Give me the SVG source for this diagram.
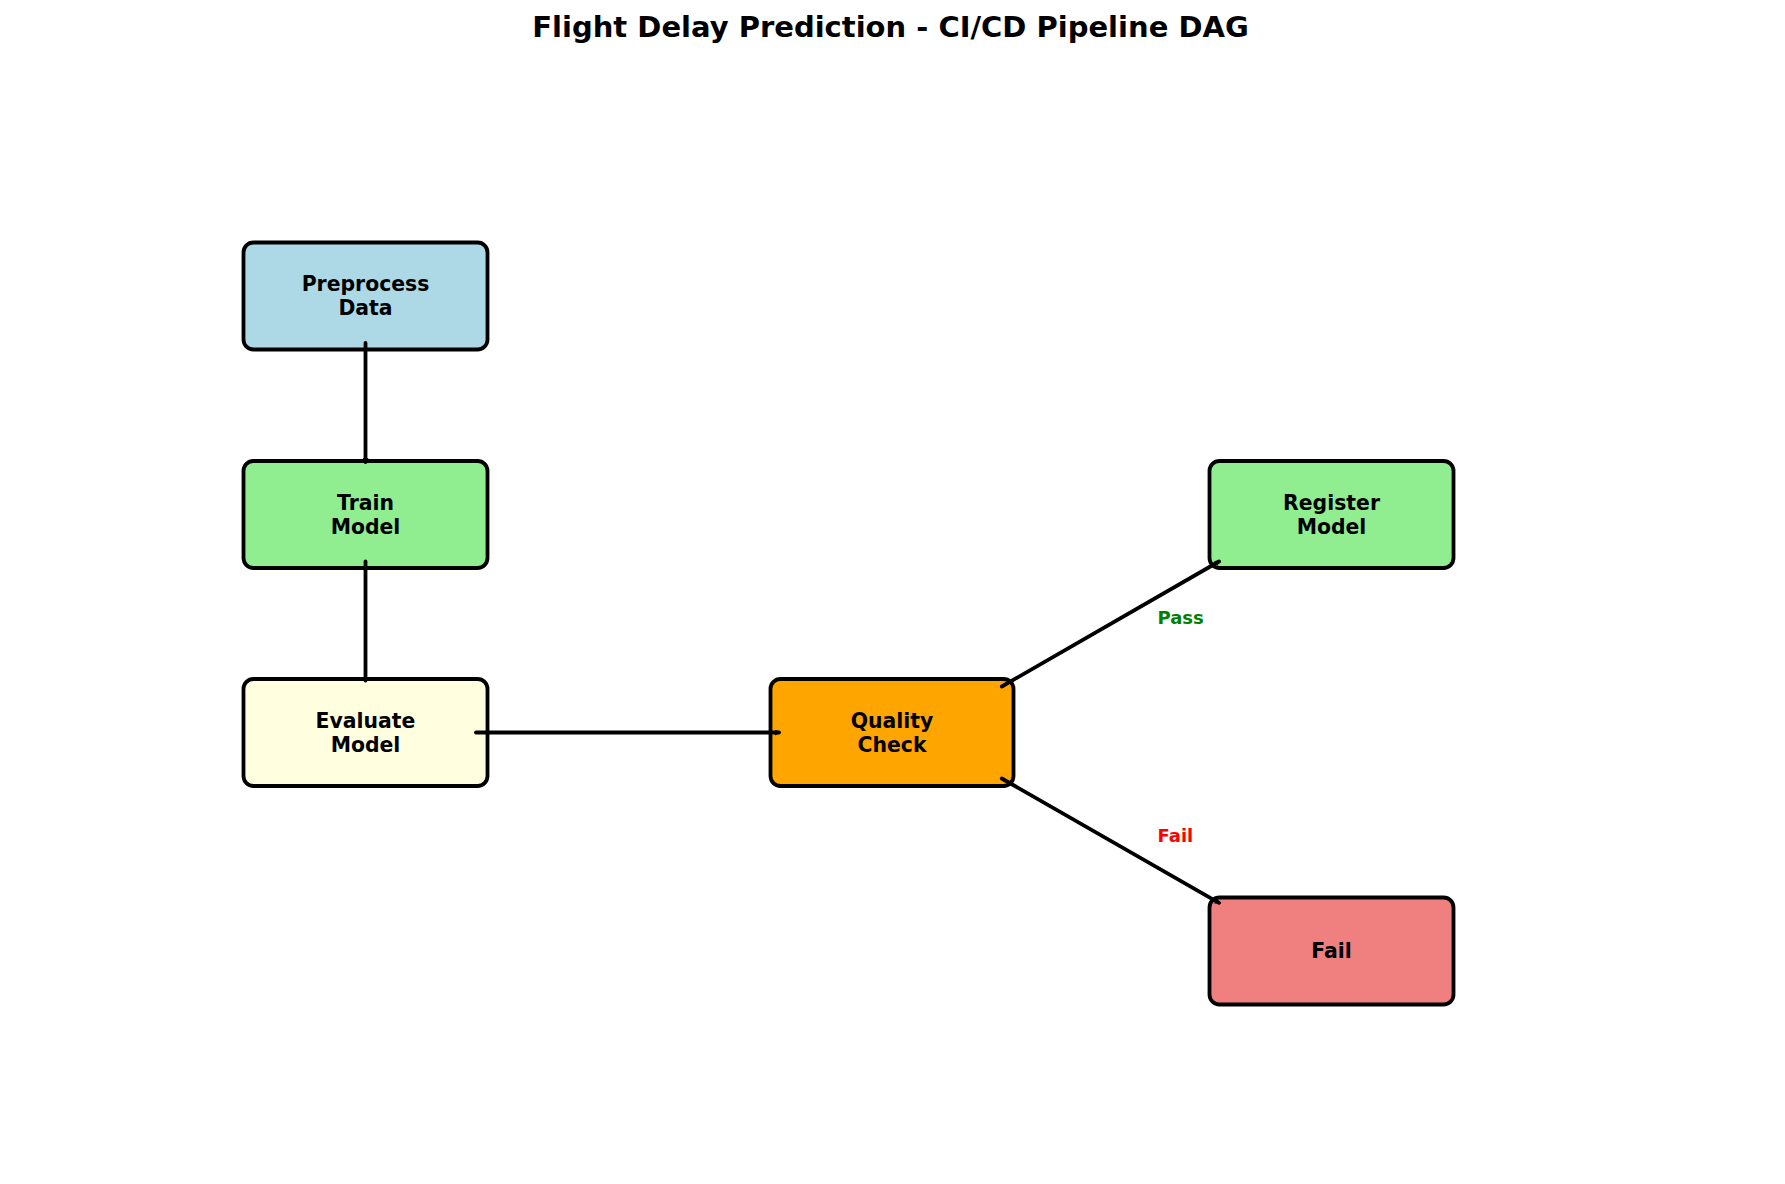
<svg xmlns="http://www.w3.org/2000/svg" width="1785" height="1184" viewBox="0 0 1785 1184">
<style>
.box{stroke:#000;stroke-width:3.8}
.t{font-family:"DejaVu Sans",sans-serif;font-weight:bold;font-size:20.4px;fill:#000;text-anchor:middle}
.title{font-family:"DejaVu Sans",sans-serif;font-weight:bold;font-size:29px;fill:#000;text-anchor:middle}
.lbl{font-family:"DejaVu Sans",sans-serif;font-weight:bold;font-size:18px}
.edge{stroke:#000;stroke-width:3.8;stroke-linecap:round;fill:none;marker-end:url(#tip)}
</style>
<defs>
<marker id="tip" viewBox="0 0 6 6" refX="4" refY="3" markerWidth="6" markerHeight="6" markerUnits="userSpaceOnUse" orient="auto">
<path d="M0,0 L6,3 L0,6 Z" fill="#000"/>
</marker>
</defs>
<rect width="1785" height="1184" fill="#fff"/>
<text class="title" x="890.5" y="37">Flight Delay Prediction - CI/CD Pipeline DAG</text>
<g id="preprocess">
<rect class="box" x="243.5" y="242.5" width="244" height="107" rx="10" fill="#ADD8E6"/>
<text class="t" x="365.5" y="291">Preprocess</text>
<text class="t" x="365.5" y="314.5">Data</text>
</g>
<g id="train">
<rect class="box" x="243.5" y="461" width="244" height="107" rx="10" fill="#90EE90"/>
<text class="t" x="365.5" y="509.5">Train</text>
<text class="t" x="365.5" y="533.5">Model</text>
</g>
<g id="evaluate">
<rect class="box" x="243.5" y="679" width="244" height="107" rx="10" fill="#FFFFE0"/>
<text class="t" x="365.5" y="727.5">Evaluate</text>
<text class="t" x="365.5" y="751.5">Model</text>
</g>
<g id="quality">
<rect class="box" x="770.5" y="679" width="243" height="107" rx="10" fill="#FFA500"/>
<text class="t" x="892" y="727.5">Quality</text>
<text class="t" x="892" y="751.5">Check</text>
</g>
<g id="register">
<rect class="box" x="1209.5" y="461" width="244" height="107" rx="10" fill="#90EE90"/>
<text class="t" x="1331.5" y="509.5">Register</text>
<text class="t" x="1331.5" y="533.5">Model</text>
</g>
<g id="fail">
<rect class="box" x="1209.5" y="897.5" width="244" height="107" rx="10" fill="#F08080"/>
<text class="t" x="1331.5" y="958">Fail</text>
</g>
<g id="connectors">
<line class="edge" x1="365.5" y1="343" x2="365.5" y2="462"/>
<line class="edge" x1="365.5" y1="561.5" x2="365.5" y2="680.5"/>
<line class="edge" x1="476" y1="732.5" x2="779" y2="732.5"/>
<line class="edge" x1="1001.8" y1="686.5" x2="1219" y2="561.5"/>
<line class="edge" x1="1001.8" y1="778.5" x2="1219" y2="902.8"/>
<text class="lbl" x="1157.5" y="623.5" fill="#008000">Pass</text>
<text class="lbl" x="1157.5" y="841.5" fill="#ff0000">Fail</text>
</g>
</svg>
